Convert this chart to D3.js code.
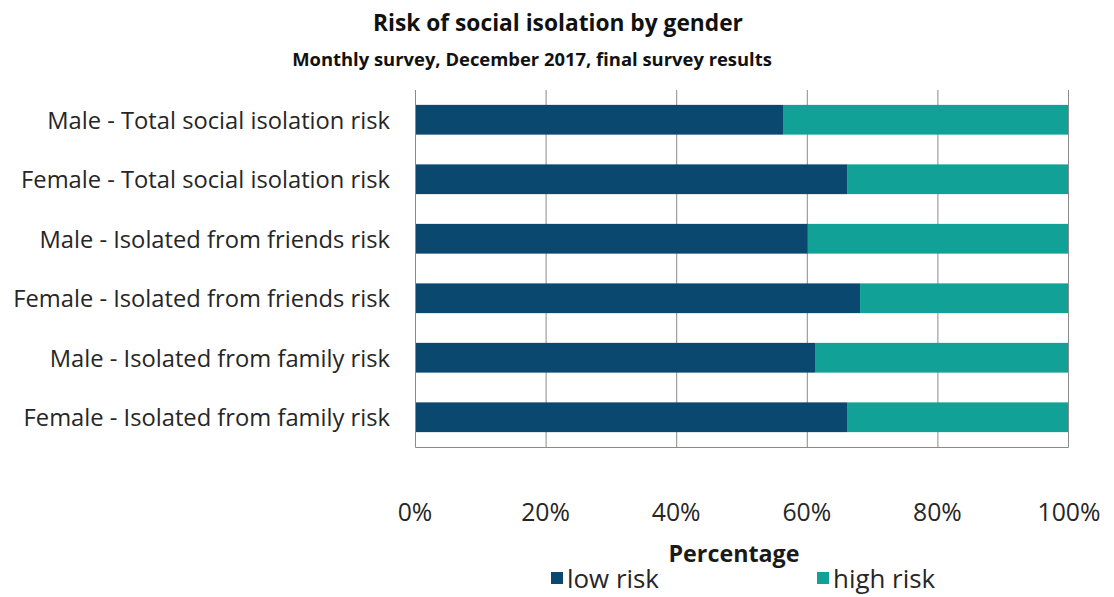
<!DOCTYPE html>
<html><head><meta charset="utf-8">
<script src="https://cdn.jsdelivr.net/npm/d3@7"></script>
<style>body{margin:0;background:#fff;}svg{display:block;font-family:"Open Sans",Lato,sans-serif;}</style>
</head><body>
<svg id="chart" width="1114" height="597"></svg>
<script>
const categories = [
  "Male - Total social isolation risk",
  "Female - Total social isolation risk",
  "Male - Isolated from friends risk",
  "Female - Isolated from friends risk",
  "Male - Isolated from family risk",
  "Female - Isolated from family risk"
];
const lowRisk  = [56.2, 66.1, 60.0, 68.0, 61.1, 66.0];
const highRisk = [43.8, 33.9, 40.0, 32.0, 38.9, 34.0];
const seriesNames = ["low risk", "high risk"];
const seriesColors = ["#0b4870", "#11a197"];
const xTicks = [0, 20, 40, 60, 80, 100];

const svg = d3.select("#chart");
const L = 415, R = 1068, T = 90, B = 447;

// scale a text group's font so that a reference element reaches a target width
function fit(sel, refNode, target) {
  const w = refNode.getComputedTextLength();
  const fs = parseFloat(sel.attr("font-size"));
  sel.attr("font-size", (fs * target / w).toFixed(2));
}

const x = d3.scaleLinear().domain([0, 100]).range([L, R]);
const y = d3.scaleBand().domain(categories).range([T, B]).paddingInner(0.5).paddingOuter(0.25);

svg.append("g").selectAll("line").data(xTicks.slice(1, -1)).join("line")
  .attr("x1", d => x(d) + 0.5).attr("x2", d => x(d) + 0.5)
  .attr("y1", T).attr("y2", B)
  .attr("stroke", "#8a8a8a").attr("stroke-width", 1);

svg.append("path")
  .attr("d", `M${L + 0.5},${T}V${B + 0.5}H${R + 0.5}V${T}`)
  .attr("fill", "none").attr("stroke", "#8a8a8a").attr("stroke-width", 1);

const data = categories.map((c, i) => ({cat: c, low: lowRisk[i], high: highRisk[i]}));
const stack = d3.stack().keys(["low", "high"])(data);

svg.append("g").selectAll("g").data(stack).join("g")
  .attr("fill", (d, i) => seriesColors[i])
  .selectAll("rect").data(d => d).join("rect")
  .attr("x", d => x(d[0]) + 1)
  .attr("width", d => x(d[1]) - x(d[0]) - (d[1] >= 100 ? 1 : 0))
  .attr("y", d => y(d.data.cat))
  .attr("height", y.bandwidth());

const catLabels = svg.append("g").attr("font-size", 20).attr("fill", "#262626");
catLabels.selectAll("text").data(categories).join("text")
  .attr("x", 390).attr("y", d => y(d) + y.bandwidth() / 2)
  .attr("text-anchor", "end").attr("dominant-baseline", "central")
  .text(d => d);
fit(catLabels, catLabels.selectAll("text").nodes()[3], 377);

const tickLabels = svg.append("g").attr("font-size", 20).attr("fill", "#262626");
tickLabels.selectAll("text").data(xTicks).join("text")
  .attr("x", d => x(d) + (d === 100 ? 1 : 0)).attr("y", 511)
  .attr("text-anchor", "middle").attr("dominant-baseline", "central")
  .text(d => d + "%");
fit(tickLabels, tickLabels.selectAll("text").nodes()[5], 63);

const axTitle = svg.append("text").attr("x", 734).attr("y", 553)
  .attr("text-anchor", "middle").attr("dominant-baseline", "central")
  .attr("font-size", 20).attr("font-weight", "bold").attr("fill", "#1a1a1a")
  .text("Percentage");
fit(axTitle, axTitle.node(), 131);

const title = svg.append("text").attr("x", 558).attr("y", 22)
  .attr("text-anchor", "middle").attr("dominant-baseline", "central")
  .attr("font-size", 23).attr("font-weight", "bold").attr("fill", "#111")
  .text("Risk of social isolation by gender");
fit(title, title.node(), 370);

const subtitle = svg.append("text").attr("x", 532).attr("y", 58)
  .attr("text-anchor", "middle").attr("dominant-baseline", "central")
  .attr("font-size", 14.5).attr("font-weight", "bold").attr("fill", "#111")
  .text("Monthly survey, December 2017, final survey results");
fit(subtitle, subtitle.node(), 480);

const legendX = [551, 817];
const lg = svg.append("g").attr("font-size", 20).attr("fill", "#262626")
  .selectAll("g").data(seriesNames).join("g")
  .attr("transform", (d, i) => `translate(${legendX[i]},578)`);
lg.append("rect").attr("x", 0).attr("y", -6).attr("width", 12).attr("height", 12)
  .attr("fill", (d, i) => seriesColors[i]);
const lgText = lg.append("text").attr("x", 16).attr("y", 0).attr("dominant-baseline", "central")
  .text(d => d);
fit(d3.select(lgText.node().parentNode.parentNode), lgText.node(), 92);
</script>
</body></html>
